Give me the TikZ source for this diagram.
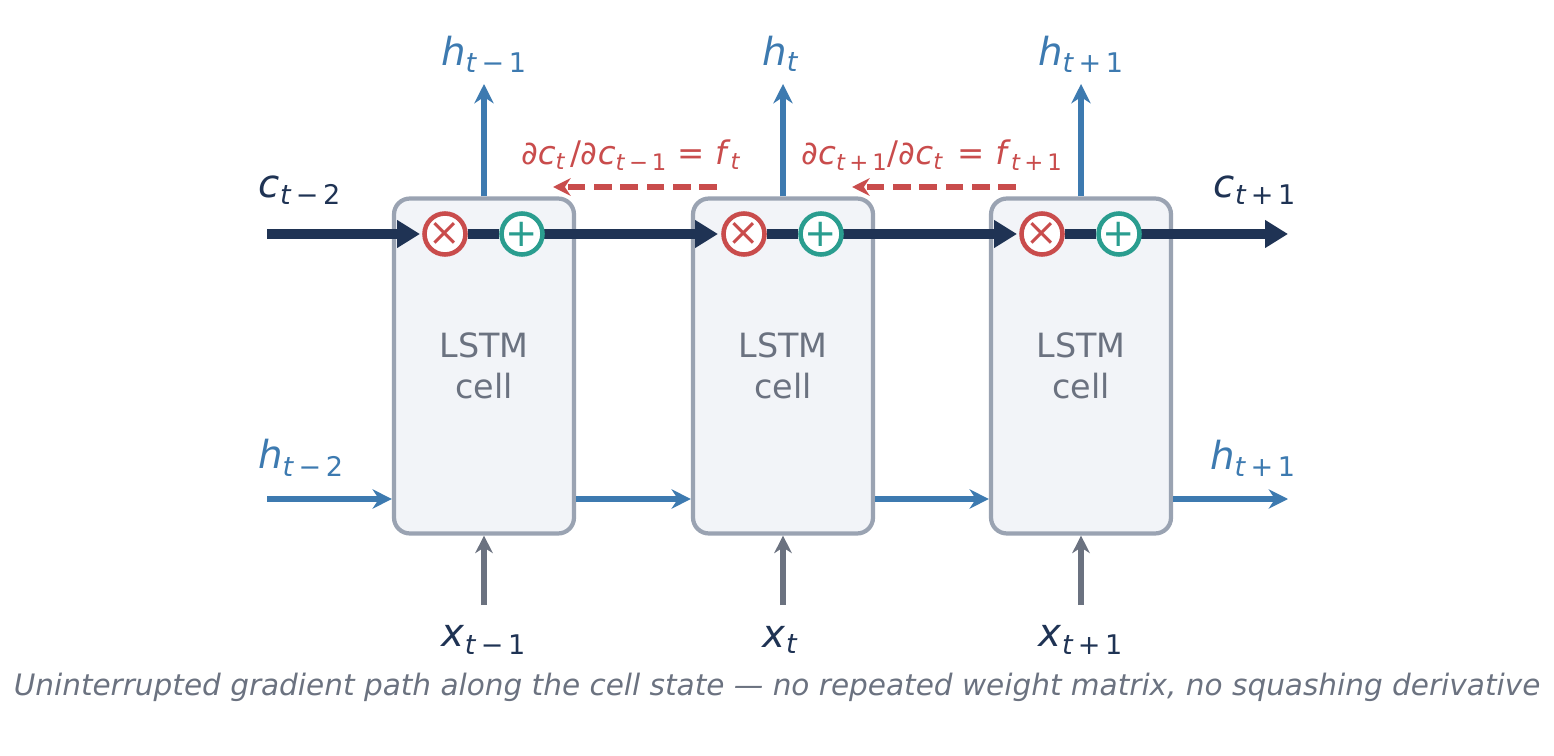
\documentclass[tikz,border=0pt]{standalone}
\usepackage{fontspec}
\setmainfont{DejaVu Sans}
\usetikzlibrary{arrows.meta,positioning}
\definecolor{navy}{HTML}{1F3354}
\definecolor{hblue}{HTML}{3D7AB0}
\definecolor{xgray}{HTML}{6B7280}
\definecolor{cellbd}{HTML}{9AA3B2}
\definecolor{cellbg}{HTML}{F2F4F8}
\definecolor{fred}{HTML}{C94C4C}
\definecolor{igreen}{HTML}{2A9D8F}
\newcommand{\vsub}[3]{\textit{#1}\textsubscript{\textit{#2}\,#3}}
\begin{document}
\begin{tikzpicture}[x=0.02cm,y=-0.02cm,
cell/.style={draw=cellbd,fill=cellbg,line width=2.4pt,rounded corners=9pt,minimum width=3.6cm,minimum height=6.7cm,text=xgray,font=\fontsize{19}{23}\selectfont,align=center},
op/.style={circle,draw=#1,fill=white,line width=2.6pt,minimum size=0.82cm,inner sep=0pt,text=#1,font=\fontsize{22}{22}\selectfont},
cflow/.style={draw=navy,line width=5.5pt,-{Triangle[length=13pt,width=15pt]}},
hflow/.style={draw=hblue,line width=2.9pt,-{Stealth[length=11pt,width=11pt]}},
xflow/.style={draw=xgray,line width=2.9pt,-{Stealth[length=10pt,width=10pt]}},
grad/.style={draw=fred,line width=2.9pt,dash pattern=on 10pt off 5pt,-{Stealth[length=10pt,width=10pt]}},
lbl/.style={font=\fontsize{22}{26}\selectfont}]
\useasboundingbox (0,0) rectangle (1554,756);

\node[cell] (C1) at (484,366) {LSTM\\cell};
\node[cell] (C2) at (783,366) {LSTM\\cell};
\node[cell] (C3) at (1081,366) {LSTM\\cell};

% cell state
\coordinate (cin) at (267,234);
\coordinate (cout) at (1288,234);
\draw[cflow] (cin) -- (420,234);
\draw[cflow] (522,234) -- (718,234);
\draw[cflow] (821,234) -- (1017,234);
\draw[cflow] (1120,234) -- (cout);

\foreach \i/\x in {1/484,2/783,3/1081}{
  \node[op=fred] (m\i) at (\x-39,234) {×};
  \node[op=igreen] (p\i) at (\x+38,234) {+};
  \draw[navy,line width=5.5pt] (m\i) -- (p\i);
  \coordinate (top\i) at (\x,84);
  \coordinate (bot\i) at (\x,605);
  \draw[hflow] (C\i.north) -- (top\i);
  \draw[xflow] (bot\i) -- (C\i.south);
}

% hidden state
\coordinate (hin) at (267,499);
\coordinate (hout) at (1288,499);
\draw[hflow] (hin) -- (C1.west|-hin);
\draw[hflow] (C1.east|-hin) -- (C2.west|-hin);
\draw[hflow] (C2.east|-hin) -- (C3.west|-hin);
\draw[hflow] (C3.east|-hin) -- (hout);

% gradient
\coordinate (g1a) at (717,187); \coordinate (g1b) at (553,187);
\coordinate (g2a) at (1016,187); \coordinate (g2b) at (852,187);
\draw[grad] (g1a) -- (g1b);
\draw[grad] (g2a) -- (g2b);
\node[text=fred,font=\fontsize{18.5}{22}\selectfont] (d1) at (633,155) {∂\vsub{c}{t}{}/∂\vsub{c}{t}{−\,1} = \vsub{f}{t}{}};
\node[text=fred,font=\fontsize{18.5}{22}\selectfont] (d2) at (932,155) {∂\vsub{c}{t}{+\,1}/∂\vsub{c}{t}{} = \vsub{f}{t}{+\,1}};

% labels
\node[lbl,text=hblue] (ht1) at (484,54) {\vsub{h}{t}{−\,1}};
\node[lbl,text=hblue] (ht2) at (783,54) {\vsub{h}{t}{}};
\node[lbl,text=hblue] (ht3) at (1081,54) {\vsub{h}{t}{+\,1}};
\node[lbl,text=navy] (xt1) at (484,640) {\vsub{x}{t}{−\,1}};
\node[lbl,text=navy] (xt2) at (783,640) {\vsub{x}{t}{}};
\node[lbl,text=navy] (xt3) at (1081,640) {\vsub{x}{t}{+\,1}};
\node[lbl,text=navy] (cl) at (300,190) {\vsub{c}{t}{−\,2}};
\node[lbl,text=navy] (cr) at (1255,190) {\vsub{c}{t}{+\,1}};
\node[lbl,text=hblue] (hl) at (301,458) {\vsub{h}{t}{−\,2}};
\node[lbl,text=hblue] (hr) at (1253,458) {\vsub{h}{t}{+\,1}};

\node[text=xgray,font=\fontsize{16.8}{20}\selectfont\itshape] (cap) at (777,687) {Uninterrupted gradient path along the cell state — no repeated weight matrix, no squashing derivative};
\end{tikzpicture}
\end{document}
